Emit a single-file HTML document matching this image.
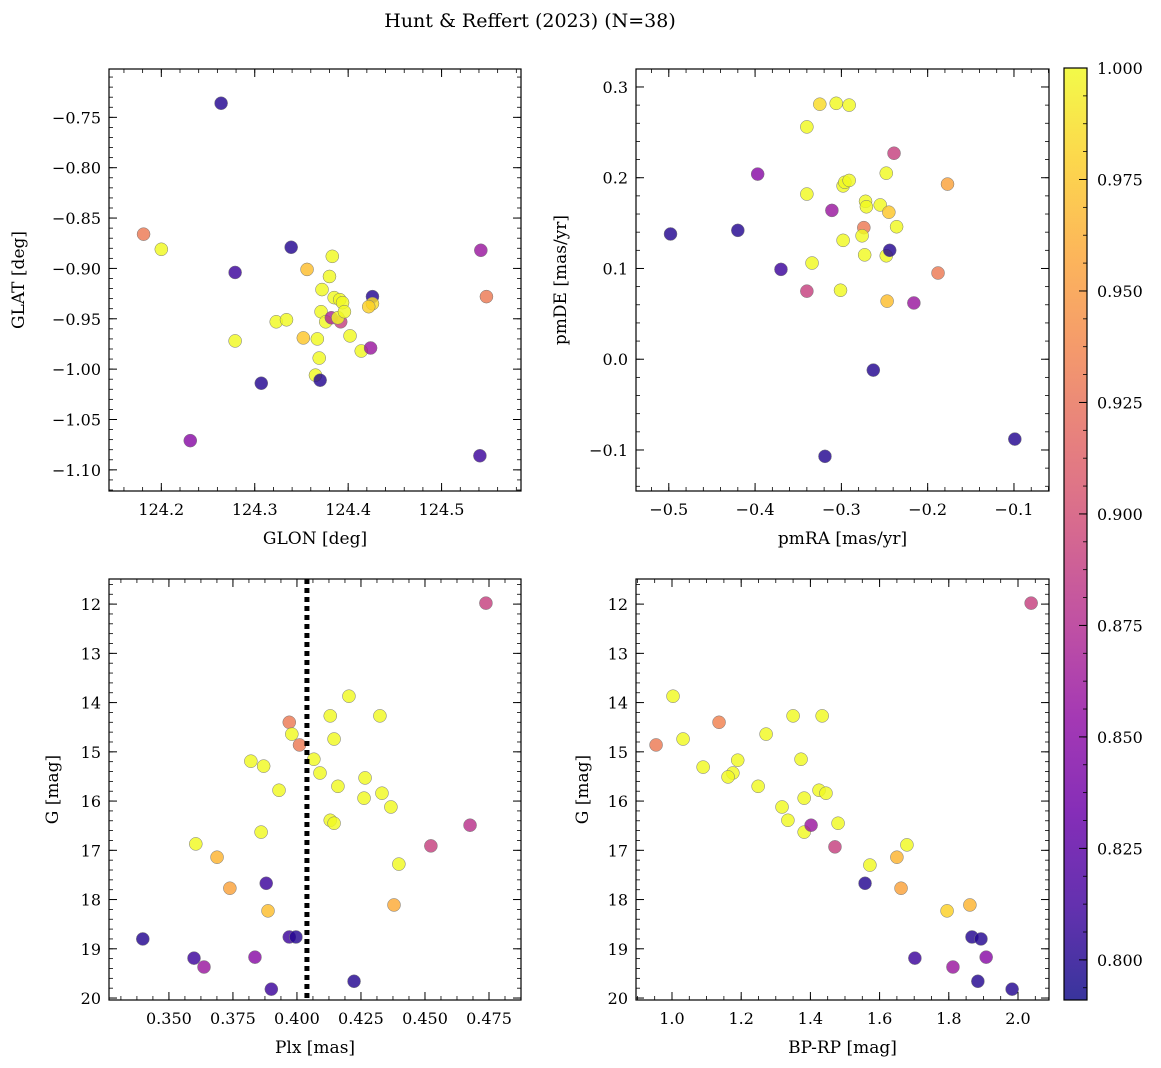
<!DOCTYPE html>
<html><head><meta charset="utf-8"><style>
html,body{margin:0;padding:0;background:#fff;}
svg{display:block;font-family:"DejaVu Serif","Liberation Serif",serif;}
</style></head><body>
<svg id="fig" width="1161" height="1068" viewBox="0 0 1161 1068" xmlns="http://www.w3.org/2000/svg">
<text x="530" y="27" font-size="19" text-anchor="middle">Hunt &amp; Reffert (2023) (N=38)</text>
</svg>
<script>
// ---- data ----
const glon = [124.264,124.181,124.200,124.279,124.339,124.356,124.383,124.380,124.372,124.385,124.391,124.394,124.426,124.426,124.422,124.542,124.548,124.279,124.323,124.334,124.352,124.367,124.371,124.376,124.382,124.392,124.389,124.396,124.402,124.414,124.424,124.369,124.365,124.370,124.307,124.231,124.541];
const glat = [-0.736,-0.866,-0.881,-0.904,-0.879,-0.901,-0.888,-0.908,-0.921,-0.929,-0.931,-0.934,-0.928,-0.935,-0.938,-0.882,-0.928,-0.972,-0.953,-0.951,-0.969,-0.970,-0.943,-0.953,-0.949,-0.953,-0.949,-0.943,-0.967,-0.982,-0.979,-0.989,-1.006,-1.011,-1.014,-1.071,-1.086];
const probTL = [0.80,0.93,1.0,0.81,0.80,0.97,1.0,1.0,1.0,1.0,1.0,1.0,0.80,0.985,0.98,0.86,0.93,1.0,1.0,1.0,0.975,1.0,1.0,1.0,0.87,0.89,1.0,1.0,1.0,1.0,0.86,1.0,1.0,0.80,0.80,0.85,0.81];
const pmra = [-0.498,-0.420,-0.397,-0.370,-0.340,-0.340,-0.334,-0.340,-0.325,-0.306,-0.291,-0.311,-0.298,-0.296,-0.291,-0.298,-0.301,-0.319,-0.274,-0.272,-0.271,-0.276,-0.273,-0.255,-0.248,-0.245,-0.248,-0.244,-0.239,-0.236,-0.247,-0.263,-0.216,-0.188,-0.177,-0.099];
const pmde = [0.138,0.142,0.204,0.099,0.256,0.182,0.106,0.075,0.281,0.282,0.280,0.164,0.191,0.195,0.197,0.131,0.076,-0.107,0.145,0.174,0.168,0.136,0.115,0.170,0.205,0.162,0.114,0.120,0.227,0.146,0.064,-0.012,0.062,0.095,0.193,-0.088];
const probTR = [0.80,0.80,0.85,0.81,1.0,1.0,1.0,0.89,0.985,1.0,1.0,0.86,1.0,1.0,1.0,1.0,1.0,0.80,0.93,1.0,1.0,1.0,1.0,1.0,1.0,0.975,1.0,0.80,0.89,1.0,0.97,0.80,0.86,0.93,0.955,0.80];
const plx = [0.3398,0.3598,0.3637,0.3605,0.3688,0.3738,0.382,0.387,0.386,0.388,0.3887,0.3836,0.390,0.393,0.397,0.398,0.401,0.397,0.3996,0.4066,0.409,0.413,0.4145,0.416,0.413,0.4145,0.4203,0.4223,0.4266,0.4262,0.4324,0.4332,0.4367,0.4398,0.4379,0.4523,0.4676,0.4738];
const gmagL = [18.80,19.19,19.37,16.87,17.14,17.77,15.19,15.29,16.63,17.67,18.23,19.17,19.82,15.78,14.40,14.64,14.86,18.76,18.76,15.15,15.43,14.27,14.74,15.70,16.39,16.45,13.87,19.66,15.53,15.94,14.27,15.84,16.12,17.28,18.11,16.91,16.49,11.98];
const probBL = [0.80,0.81,0.86,1.0,0.965,0.955,1.0,1.0,1.0,0.81,0.97,0.85,0.81,1.0,0.93,1.0,0.93,0.81,0.80,1.0,1.0,1.0,1.0,1.0,1.0,1.0,1.0,0.80,1.0,1.0,1.0,1.0,1.0,1.0,0.96,0.89,0.88,0.89];
const bprp = [0.954,1.003,1.032,1.09,1.136,1.19,1.176,1.162,1.272,1.249,1.35,1.373,1.434,1.318,1.335,1.382,1.382,1.402,1.425,1.445,1.48,1.471,1.572,1.558,1.65,1.662,1.679,1.702,1.795,1.812,1.861,1.867,1.893,1.884,1.908,1.983,2.038];
const gmagR = [14.86,13.87,14.74,15.31,14.40,15.17,15.43,15.51,14.64,15.70,14.27,15.15,14.27,16.12,16.39,15.94,16.63,16.49,15.78,15.84,16.45,16.93,17.30,17.67,17.14,17.77,16.89,19.19,18.23,19.37,18.11,18.76,18.80,19.66,19.17,19.82,11.98];
const probBR = [0.93,1.0,1.0,1.0,0.935,1.0,1.0,1.0,1.0,1.0,1.0,1.0,1.0,1.0,1.0,1.0,1.0,0.86,1.0,1.0,1.0,0.89,1.0,0.80,0.965,0.955,1.0,0.81,0.98,0.86,0.965,0.80,0.80,0.80,0.85,0.80,0.89];
const plxRef = 0.4039;
const ticksTLx = [124.2,124.3,124.4,124.5], ticksTLy = [-0.75,-0.80,-0.85,-0.90,-0.95,-1.00,-1.05,-1.10];
const ticksTRx = [-0.5,-0.4,-0.3,-0.2,-0.1], ticksTRy = [0.3,0.2,0.1,0.0,-0.1];
const ticksBLx = [0.350,0.375,0.400,0.425,0.450,0.475], ticksG = [12,13,14,15,16,17,18,19,20];
const ticksBRx = [1.0,1.2,1.4,1.6,1.8,2.0];
const cbTicks = [0.800,0.825,0.850,0.875,0.900,0.925,0.950,0.975,1.000];

const NS="http://www.w3.org/2000/svg";
const svg=document.getElementById('fig');
function el(tag,attrs,parent){const e=document.createElementNS(NS,tag);for(const k in attrs)e.setAttribute(k,attrs[k]);(parent||svg).appendChild(e);return e;}
const plasma=[[13,8,135],[65,4,157],[106,0,168],[143,13,164],[177,42,144],[204,71,120],[225,100,98],[242,132,75],[252,166,54],[252,206,37],[240,249,33]];
const VMIN=0.791,VMAX=1.0;
function cmap(v){let t=(v-VMIN)/(VMAX-VMIN);t=Math.max(0,Math.min(1,t))*10;const i=Math.min(9,Math.floor(t)),f=t-i;const a=plasma[i],b=plasma[i+1];return `rgb(${a.map((c,j)=>Math.round(c+(b[j]-c)*f)).join(',')})`;}
function fmt(v,d){const s=v.toFixed(d);return s.replace('-','\u2212');}

function panel(o){
  const g=el('g',{});
  
  
  const sx=v=>o.x0+(v-o.xmin)/(o.xmax-o.xmin)*(o.x1-o.x0);
  const sy=v=>o.y1-(v-o.ymin)/(o.ymax-o.ymin)*(o.y1-o.y0);
  // points
  for(let i=0;i<Math.min(o.xs.length,o.ys.length,o.ps.length);i++){
    const c=el('circle',{cx:sx(o.xs[i]),cy:sy(o.ys[i]),r:6.5,fill:cmap(o.ps[i]),'fill-opacity':0.82,stroke:'#777','stroke-width':0.5},g);
    
    
  }
  if(o.vline!==undefined){
    const l=el('line',{x1:sx(o.vline),x2:sx(o.vline),y1:o.y0,y2:o.y1,stroke:'#000','stroke-width':5,'stroke-dasharray':'5,4'},g);
    
    
  }
  const f=el('rect',{x:o.x0,y:o.y0,width:o.x1-o.x0,height:o.y1-o.y0,fill:'none',stroke:'#000','stroke-width':1.2},g);
  
  
  // minor ticks
  const mx=o.xminor,my=o.yminor;
  for(let v=Math.ceil(Math.min(o.xmin,o.xmax)/mx)*mx;v<=Math.max(o.xmin,o.xmax);v+=mx){const x=sx(v);
    el('line',{x1:x,x2:x,y1:o.y1,y2:o.y1-4,stroke:'#000','stroke-width':0.8},g);el('line',{x1:x,x2:x,y1:o.y0,y2:o.y0+4,stroke:'#000','stroke-width':0.8},g);}
  for(let v=Math.ceil(Math.min(o.ymin,o.ymax)/my)*my;v<=Math.max(o.ymin,o.ymax);v+=my){const y=sy(v);
    el('line',{x1:o.x0,x2:o.x0+4,y1:y,y2:y,stroke:'#000','stroke-width':0.8},g);el('line',{x1:o.x1,x2:o.x1-4,y1:y,y2:y,stroke:'#000','stroke-width':0.8},g);}
  o.xt.forEach(v=>{const x=sx(v);
    el('line',{x1:x,x2:x,y1:o.y1,y2:o.y1-8,stroke:'#000','stroke-width':1},g);el('line',{x1:x,x2:x,y1:o.y0,y2:o.y0+8,stroke:'#000','stroke-width':1},g);
    const t=el('text',{x:x,y:o.y1+24,'font-size':16,'text-anchor':'middle'},g);t.textContent=fmt(v,o.xd);
    });
  o.yt.forEach(v=>{const y=sy(v);
    el('line',{x1:o.x0,x2:o.x0+8,y1:y,y2:y,stroke:'#000','stroke-width':1},g);el('line',{x1:o.x1,x2:o.x1-8,y1:y,y2:y,stroke:'#000','stroke-width':1},g);
    const t=el('text',{x:o.x0-8,y:y+6,'font-size':16,'text-anchor':'end'},g);t.textContent=fmt(v,o.yd);
    });
  const xl=el('text',{x:(o.x0+o.x1)/2,y:o.y1+53,'font-size':17,'text-anchor':'middle'},g);xl.textContent=o.xlabel;
  
  const yl=el('text',{x:o.ylx,y:(o.y0+o.y1)/2,'font-size':17,'text-anchor':'middle',transform:`rotate(-90 ${o.ylx} ${(o.y0+o.y1)/2})`},g);yl.textContent=o.ylabel;
  
}
panel({name:'glon-glat-panel',x0:109,x1:521,y0:69,y1:491,xmin:124.144,xmax:124.585,ymin:-1.121,ymax:-0.702,xs:glon,ys:glat,ps:probTL,xt:ticksTLx,yt:ticksTLy,xd:1,yd:2,xminor:0.02,yminor:0.01,xlabel:'GLON [deg]',ylabel:'GLAT [deg]',ylx:24});
panel({name:'proper-motion-panel',x0:636,x1:1049,y0:69,y1:491,xmin:-0.538,xmax:-0.0594,ymin:-0.1452,ymax:0.3198,xs:pmra,ys:pmde,ps:probTR,xt:ticksTRx,yt:ticksTRy,xd:1,yd:1,xminor:0.02,yminor:0.02,xlabel:'pmRA [mas/yr]',ylabel:'pmDE [mas/yr]',ylx:566});
panel({name:'parallax-magnitude-panel',x0:109,x1:521,y0:579,y1:1000,xmin:0.3266,xmax:0.4875,ymin:20.04,ymax:11.49,xs:plx,ys:gmagL,ps:probBL,xt:ticksBLx,yt:ticksG,xd:3,yd:0,xminor:0.00625,yminor:0.2,xlabel:'Plx [mas]',ylabel:'G [mag]',ylx:58,vline:plxRef});
panel({name:'color-magnitude-panel',x0:636,x1:1049,y0:579,y1:1000,xmin:0.896,xmax:2.0896,ymin:20.04,ymax:11.49,xs:bprp,ys:gmagR,ps:probBR,xt:ticksBRx,yt:ticksG,xd:1,yd:0,xminor:0.05,yminor:0.2,xlabel:'BP-RP [mag]',ylabel:'G [mag]',ylx:588});

// colorbar
const cb=el('g',{});


const defs=el('defs',{},cb);
const lg=el('linearGradient',{id:'cbg',x1:0,y1:1,x2:0,y2:0},defs);
for(let i=0;i<=20;i++){const v=VMIN+(VMAX-VMIN)*i/20;el('stop',{offset:i/20,'stop-color':cmap(v),'stop-opacity':0.82},lg);}
const cx0=1064,cx1=1087,cy0=68,cy1=1000;
el('rect',{x:cx0,y:cy0,width:cx1-cx0,height:cy1-cy0,fill:'url(#cbg)',stroke:'#000','stroke-width':1.2},cb);
const cby=v=>cy1-(v-VMIN)/(VMAX-VMIN)*(cy1-cy0);
for(let v=0.79375;v<=VMAX+1e-9;v+=0.00625){const y=cby(v);el('line',{x1:cx1,x2:cx1-4,y1:y,y2:y,stroke:'#000','stroke-width':0.8},cb);}
cbTicks.forEach(v=>{const y=cby(v);el('line',{x1:cx1,x2:cx1-8,y1:y,y2:y,stroke:'#000','stroke-width':1},cb);
  const t=el('text',{x:cx1+10,y:y+6,'font-size':16},cb);t.textContent=v.toFixed(3);
  });
</script>
</body></html>
